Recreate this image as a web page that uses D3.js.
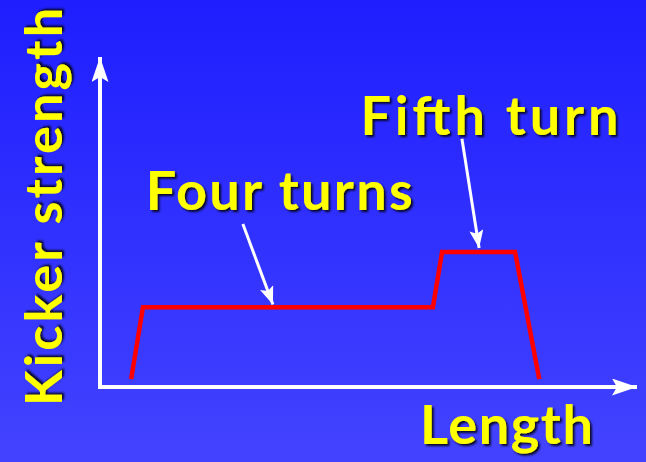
<!DOCTYPE html>
<html>
<head>
<meta charset="utf-8">
<script src="https://cdn.jsdelivr.net/npm/d3@7"></script>
<style>
  body { margin: 0; }
  svg text { font-family: "Comic Sans MS", "Lato", "Open Sans", sans-serif; font-weight: 700; }
</style>
</head>
<body>
<div id="chart"></div>
<script>
/* DATA */
// kicker profile along the length (both axes in arbitrary units 0..100)
const lengthPts   = [5.8, 8.0, 62.0, 63.7, 77.3, 81.8];
const strengthPts = [2.4, 24.2, 24.2, 40.9, 40.9, 2.4];

// labels: text, anchor point (x, y in data units) and where the pointer lands
const labelText   = ["Four turns", "Fifth turn"];
const labelPos    = [[8.5, 53.5], [48.5, 76.4]];
const pointerFrom = [[26.6, 49.4], [67.4, 75.2]];
const pointerTo   = [[32.2, 25.0], [70.6, 42.1]];

const xTitle = "Length";
const yTitle = "Kicker strength";

/* CONSTANTS */
const width = 646,
  height = 462,
  margin = ({top: 57, right: 9, bottom: 75, left: 100});

const svg = d3.select("#chart")
  .append("svg")
  .attr("width", width)
  .attr("height", height);

const defs = svg.append("defs");

const grad = defs.append("linearGradient")
  .attr("id", "bg")
  .attr("x1", 0).attr("y1", 0).attr("x2", 0).attr("y2", 1);
grad.append("stop").attr("offset", "0%").attr("stop-color", "#1e1eff");
grad.append("stop").attr("offset", "100%").attr("stop-color", "#4343ff");

// drop shadow for the yellow text
const shadow = defs.append("filter").attr("id", "shadow")
  .attr("x", "-10%").attr("y", "-10%").attr("width", "120%").attr("height", "130%");
shadow.append("feDropShadow")
  .attr("dx", 2).attr("dy", 2).attr("stdDeviation", 1.2)
  .attr("flood-color", "#000").attr("flood-opacity", 0.85);

// notched white arrowhead
function arrowMarker(id, len, half) {
  defs.append("marker")
    .attr("id", id)
    .attr("viewBox", `0 ${-half} ${len} ${half * 2}`)
    .attr("refX", len).attr("refY", 0)
    .attr("markerUnits", "userSpaceOnUse")
    .attr("markerWidth", len).attr("markerHeight", half * 2)
    .attr("orient", "auto")
    .append("path")
    .attr("d", `M0,${-half}L${len},0L0,${half}L${len * 0.2},0Z`)
    .attr("fill", "white");
}
arrowMarker("axisArrow", 25, 8.5);
arrowMarker("ptrArrow", 18, 7);

svg.append("rect")
  .attr("width", width).attr("height", height)
  .attr("fill", "url(#bg)");

const x = d3.scaleLinear()
  .domain([0, 100])
  .range([margin.left, width - margin.right]);

const y = d3.scaleLinear()
  .domain([0, 100])
  .range([height - margin.bottom, margin.top]);

// axes: plain lines with arrows, no ticks
svg.append("path")
  .attr("d", d3.line()([[x(0), y(0)], [x(0), y(100)]]))
  .attr("stroke", "white")
  .attr("stroke-width", 4)
  .attr("marker-end", "url(#axisArrow)");

svg.append("path")
  .attr("d", d3.line()([[x(0) - 2, y(0)], [x(100), y(0)]]))
  .attr("stroke", "white")
  .attr("stroke-width", 4)
  .attr("marker-end", "url(#axisArrow)");

// kicker profile
const profile = lengthPts.map((d, i) => [d, strengthPts[i]]);
svg.append("path")
  .datum(profile)
  .attr("d", d3.line().x(d => x(d[0])).y(d => y(d[1])))
  .attr("fill", "none")
  .attr("stroke", "#ff0000")
  .attr("stroke-width", 4.5)
  .attr("stroke-linejoin", "miter");

// pointers
svg.selectAll("path.pointer")
  .data(pointerFrom)
  .join("path")
  .attr("class", "pointer")
  .attr("d", (d, i) => d3.line()([[x(d[0]), y(d[1])], [x(pointerTo[i][0]), y(pointerTo[i][1])]]))
  .attr("stroke", "white")
  .attr("stroke-width", 3)
  .attr("marker-end", "url(#ptrArrow)");

// labels (letters spread out, glyphs kept, like the rounded slide font)
const textW = [267, 258];
svg.selectAll("text.label")
  .data(labelText)
  .join("text")
  .attr("class", "label")
  .attr("x", (d, i) => x(labelPos[i][0]))
  .attr("y", (d, i) => y(labelPos[i][1]))
  .attr("textLength", (d, i) => textW[i])
  .attr("lengthAdjust", "spacing")
  .attr("fill", "#ffff00")
  .attr("filter", "url(#shadow)")
  .style("font-size", "54px")
  .text(d => d);

svg.append("text")
  .attr("x", 420)
  .attr("y", 444)
  .attr("textLength", 173)
  .attr("lengthAdjust", "spacing")
  .attr("fill", "#ffff00")
  .attr("filter", "url(#shadow)")
  .style("font-size", "54px")
  .text(xTitle);

svg.append("text")
  .attr("transform", "translate(62,406) rotate(-90)")
  .attr("textLength", 398)
  .attr("lengthAdjust", "spacing")
  .attr("fill", "#ffff00")
  .attr("filter", "url(#shadow)")
  .style("font-size", "52px")
  .text(yTitle);
</script>
</body>
</html>
